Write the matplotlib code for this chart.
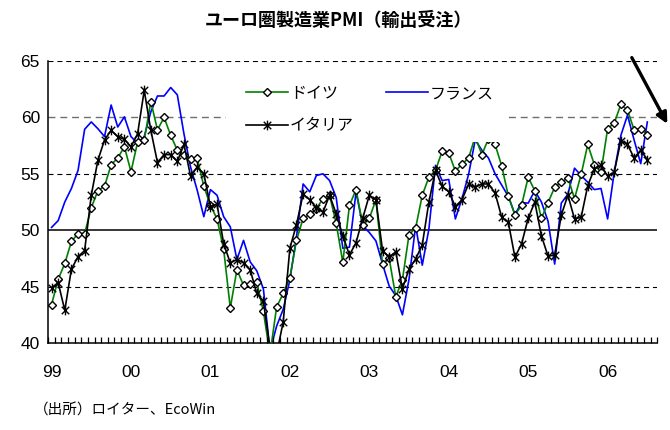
import numpy as np
import matplotlib
matplotlib.use("Agg")
import matplotlib.pyplot as plt
from matplotlib.path import Path
from matplotlib.patches import Rectangle

# monthly, Jan 1999 - Jul 2006
germany = [43.4, 45.65, 47.05, 49.0, 49.7, 49.7, 52.0, 53.5, 53.9, 55.8,
           56.4, 57.4, 55.2, 57.8, 58.0, 61.4, 58.9, 60.0, 58.4, 57.1,
           56.7, 56.3, 56.4, 53.9, 52.2, 51.0, 48.3, 43.1, 46.5, 45.1,
           45.2, 45.4, 42.8, 39.0, 43.2, 44.4, 45.8, 49.1, 51.05, 51.4,
           51.9, 52.8, 53.1, 50.6, 47.15, 52.2, 53.6, 50.5, 51.05, 52.7,
           47.0, 47.5, 44.1, 45.6, 49.6, 50.2, 53.1, 54.7, 55.3, 57.0,
           56.85, 55.25, 55.85, 56.4, 58.3, 56.7, 58.1, 57.6, 55.7, 53.05,
           51.35, 52.2, 54.7, 53.5, 51.05, 52.45, 53.8, 54.25, 54.65, 52.8,
           54.95, 57.6, 55.8, 55.15, 59.0, 59.5, 61.15, 60.65, 58.9, 59.0,
           58.45]
france = [50.25, 50.85, 52.5, 53.7, 55.3, 58.95, 59.6, 59.0, 58.3, 61.1,
          59.15, 60.05, 58.3, 57.7, 58.3, 60.5, 61.9, 61.9, 62.65, 62.0,
          58.55, 55.6, 53.55, 51.2, 53.6, 53.1, 51.2, 50.3, 47.4, 49.1,
          47.2, 46.4, 44.8, 39.3, 41.5, 43.0, 45.6, 49.4, 54.1, 53.4,
          54.85, 55.0, 54.4, 52.9, 48.4, 48.5, 53.4, 50.4, 49.8, 49.05,
          47.0, 45.05, 44.2, 42.5, 45.65, 50.4, 46.9, 50.1, 55.75, 54.4,
          54.5, 51.0, 52.8, 54.95, 58.0, 57.1, 56.4, 55.0, 54.0, 53.0,
          51.4, 52.45, 52.4, 53.5, 52.5, 50.8, 47.0, 52.4, 53.2, 55.5,
          54.85, 54.25, 53.6, 53.7, 51.0, 55.15, 58.4, 60.2, 58.0, 55.9,
          59.6]
italy = [44.9, 45.35, 42.9, 46.55, 47.65, 48.2, 53.1, 56.2, 58.0, 58.85,
         58.3, 58.05, 57.4, 58.55, 62.4, 58.85, 56.0, 56.7, 56.7, 56.1,
         57.6, 54.8, 55.6, 55.0, 52.1, 52.3, 48.8, 47.1, 47.4, 47.1,
         46.5, 44.4, 43.7, 39.5, 39.0, 41.9, 48.4, 50.5, 53.2, 52.7,
         52.0, 51.6, 53.1, 51.45, 49.5, 47.8, 48.9, 51.05, 53.1, 52.7,
         48.2, 47.6, 48.1, 44.8, 46.55, 47.45, 48.7, 52.5, 55.3, 53.9,
         53.4, 52.1, 52.7, 54.1, 53.8, 54.1, 54.1, 53.3, 51.15, 50.7,
         47.6, 48.8, 51.05, 52.5, 49.5, 47.7, 47.8, 51.35, 53.1, 51.0,
         51.15, 53.95, 55.45, 55.75, 54.8, 55.15, 57.95, 57.6, 56.4, 57.1,
         56.25]
year_labels = ['99', '00', '01', '02', '03', '04', '05', '06']
y_ticks = [40, 45, 50, 55, 60, 65]
n_cat = 92  # axis runs one month past the data

jp = ['Noto Sans CJK JP', 'DejaVu Sans']
num = ['Liberation Sans', 'DejaVu Sans']

star = Path([(-1, -1), (1, 1), (-1, 1), (1, -1), (0, -1.3), (0, 1.3)],
            [Path.MOVETO, Path.LINETO, Path.MOVETO, Path.LINETO, Path.MOVETO, Path.LINETO])

fig = plt.figure(figsize=(6.7, 4.3), dpi=100)
ax = fig.add_axes([0.072, 0.2023, 0.909, 0.6558])

x = np.arange(len(germany))
l_fr, = ax.plot(x, france, color='#0000ff', lw=1.2, zorder=2, label='フランス')
l_de, = ax.plot(x, germany, color='#008000', lw=1.2, marker='D', ms=4.2,
                mfc='white', mec='black', mew=1.0, zorder=3, label='ドイツ')
l_it, = ax.plot(x, italy, color='black', lw=1.2, marker=star, ms=7,
                mec='black', mew=1.0, zorder=4, label='イタリア')

for v in y_ticks[1:]:
    if v == 50:
        ax.axhline(v, color='black', lw=1.1, zorder=1)
    elif v == 60:
        ax.axhline(v, color='#707070', lw=1.0, dashes=(5, 3.5), zorder=1)
    else:
        ax.axhline(v, color='black', lw=0.8, dashes=(4.5, 3.5), zorder=1)

ax.set_xlim(-0.5, n_cat - 0.5)
ax.set_ylim(40, 65)
ax.set_yticks(y_ticks)
ax.set_yticklabels([str(v) for v in y_ticks], family=num, fontsize=12.5)
ax.tick_params(axis='y', length=0, pad=6)

# year labels at January; inward tick marks at every month boundary
ax.set_xticks(np.arange(0, len(year_labels) * 12, 12))
ax.set_xticklabels(year_labels, family=num, fontsize=12.5)
ax.tick_params(axis='x', length=0, pad=16)
ax.vlines(np.arange(-0.5, n_cat, 1), 0, 0.02, transform=ax.get_xaxis_transform(),
          colors='black', lw=0.9, zorder=6, clip_on=False)
for s in ['top', 'right']:
    ax.spines[s].set_visible(False)
for s in ['left', 'bottom']:
    ax.spines[s].set_linewidth(1.1)

# white legend area hides the lines behind it
ax.add_patch(Rectangle((0.292, 0.713), 0.463, 0.255, transform=ax.transAxes,
                       facecolor='white', edgecolor='none', zorder=5))
leg = ax.legend([l_de, l_it, l_fr], ['ドイツ', 'イタリア', 'フランス'], ncol=2,
                loc='upper left', bbox_to_anchor=(0.325, 0.915), frameon=False,
                prop={'family': jp, 'size': 11.5}, handlelength=2.6,
                handletextpad=0.15, columnspacing=2.0, labelspacing=0.95,
                borderpad=0, borderaxespad=0)
leg.set_zorder(6)

fig.text(0.505, 0.953, 'ユーロ圏製造業PMI（輸出受注）', ha='center', va='center',
         family=jp, fontsize=13, fontweight='bold')
fig.text(0.05, 0.045, '（出所）ロイター、EcoWin', ha='left', va='center',
         family=jp, fontsize=10.5)

ax.annotate('', xy=(0.996, 0.712), xytext=(0.943, 0.866),
            xycoords='figure fraction', textcoords='figure fraction',
            arrowprops=dict(arrowstyle='-|>', lw=2.4, color='black',
                            mutation_scale=16, shrinkA=0, shrinkB=0),
            annotation_clip=False)

fig.savefig('out.png', dpi=100)
